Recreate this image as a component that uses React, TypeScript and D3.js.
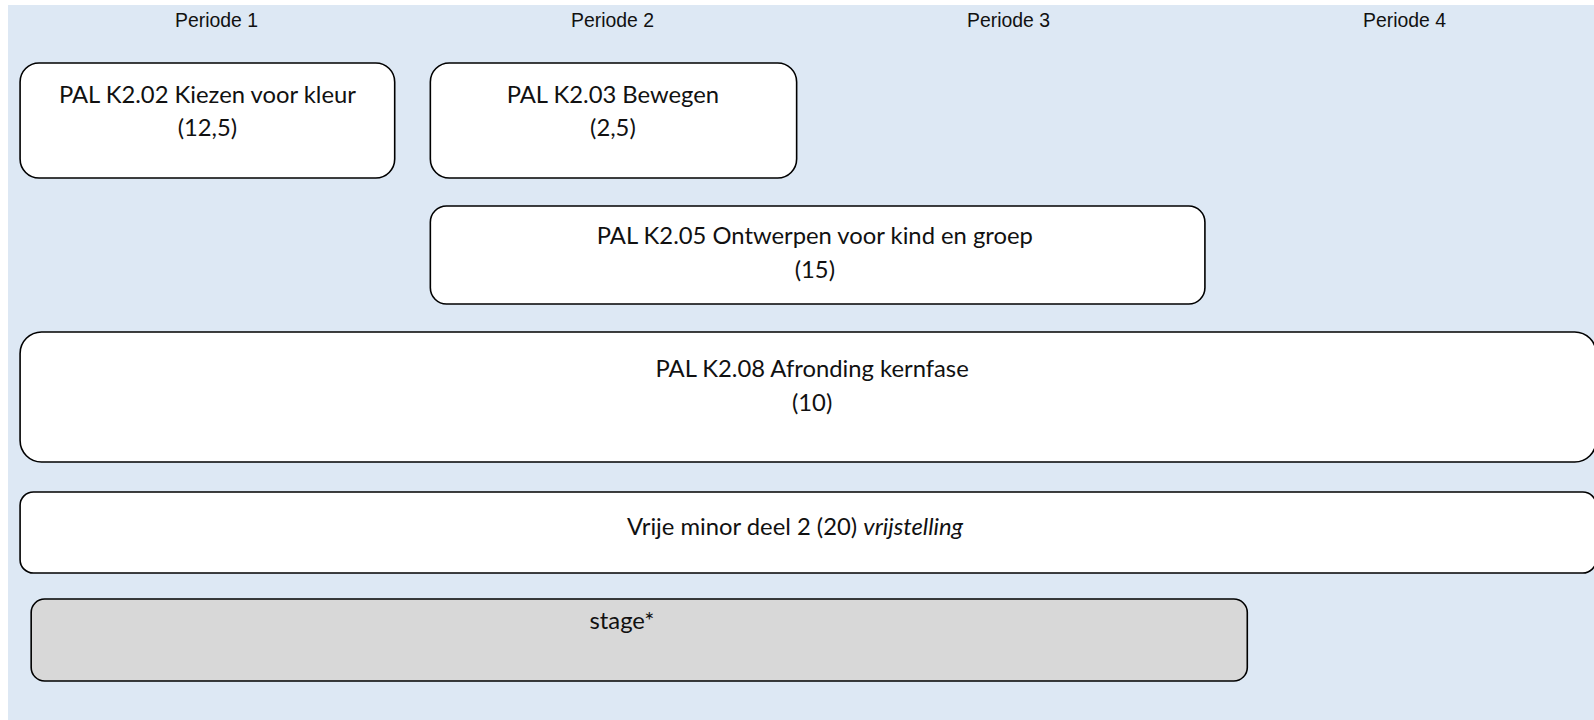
import React from "react";
import * as d3 from "d3";

const periods = ["Periode 1", "Periode 2", "Periode 3", "Periode 4"];

// courses: start/end in period units (0..4)
const courseLines = [
  ["PAL K2.02 Kiezen voor kleur", "(12,5)"],
  ["PAL K2.03 Bewegen", "(2,5)"],
  ["PAL K2.05 Ontwerpen voor kind en groep", "(15)"],
  ["PAL K2.08 Afronding kernfase", "(10)"],
  ["Vrije minor deel 2 (20) |vrijstelling"],
  ["stage*"],
];
const courseStart = [0.004, 1.04, 1.04, 0.004, 0.004, 0.032];
const courseEnd = [0.95, 1.965, 2.996, 3.984, 3.984, 3.103];
const courseLabelAt = [0.477, 1.501, 2.011, 2.004, 1.961, 1.524];
const courseRow = [0, 0, 1, 2, 3, 4];
const courseGrey = [false, false, false, false, false, true];

const W = 1594;
const H = 720;

export default function App() {
  const x = d3.scaleLinear().domain([0, 4]).range([18.5, 1602.5]);
  const bg = "#dde8f4";
  // row layout: top, bottom, first line offset
  const rowTop = [63, 206, 332, 492, 599];
  const rowBottom = [178, 304, 462, 573, 681];
  const rowText = [30.5, 29, 36, 34, 21];
  const lineGap = 33.5;
  return (
    <div style={{ position: "absolute", left: 0, top: 0 }}>
      <svg width={W} height={H} style={{ display: "block" }}>
        <rect x={8} y={5} width={W - 8} height={H - 5} fill={bg} />
        {periods.map((p, i) => (
          <text
            key={p}
            x={x(i + 0.5)}
            y={20}
            textAnchor="middle"
            dominantBaseline="central"
            fontFamily="'Liberation Sans', Arial, sans-serif"
            fontSize={19.4}
            fill="#111"
          >
            {p}
          </text>
        ))}
        {courseLines.map((lines, i) => {
          const r = courseRow[i];
          const x0 = x(courseStart[i]);
          const x1 = x(courseEnd[i]);
          const y0 = rowTop[r];
          const y1 = rowBottom[r];
          const rad = (y1 - y0) * 0.165;
          const cx = x(courseLabelAt[i]);
          return (
            <g key={i}>
              <rect
                x={x0}
                y={y0}
                width={x1 - x0}
                height={y1 - y0}
                rx={rad}
                ry={rad}
                fill={courseGrey[i] ? "#d8d8d8" : "#ffffff"}
                stroke="#000"
                strokeWidth={1.6}
              />
              {lines.map((ln, j) => {
                const parts = ln.split("|");
                return (
                  <text
                    key={j}
                    x={cx}
                    y={y0 + rowText[r] + j * lineGap}
                    textAnchor="middle"
                    dominantBaseline="central"
                    fontFamily="Lato, 'Open Sans', sans-serif"
                    fontSize={23.8}
                    fill="#111"
                  >
                    {parts[0]}
                    {parts.length > 1 ? (
                      <tspan fontStyle="italic">{parts[1]}</tspan>
                    ) : null}
                  </text>
                );
              })}
            </g>
          );
        })}
      </svg>
    </div>
  );
}
